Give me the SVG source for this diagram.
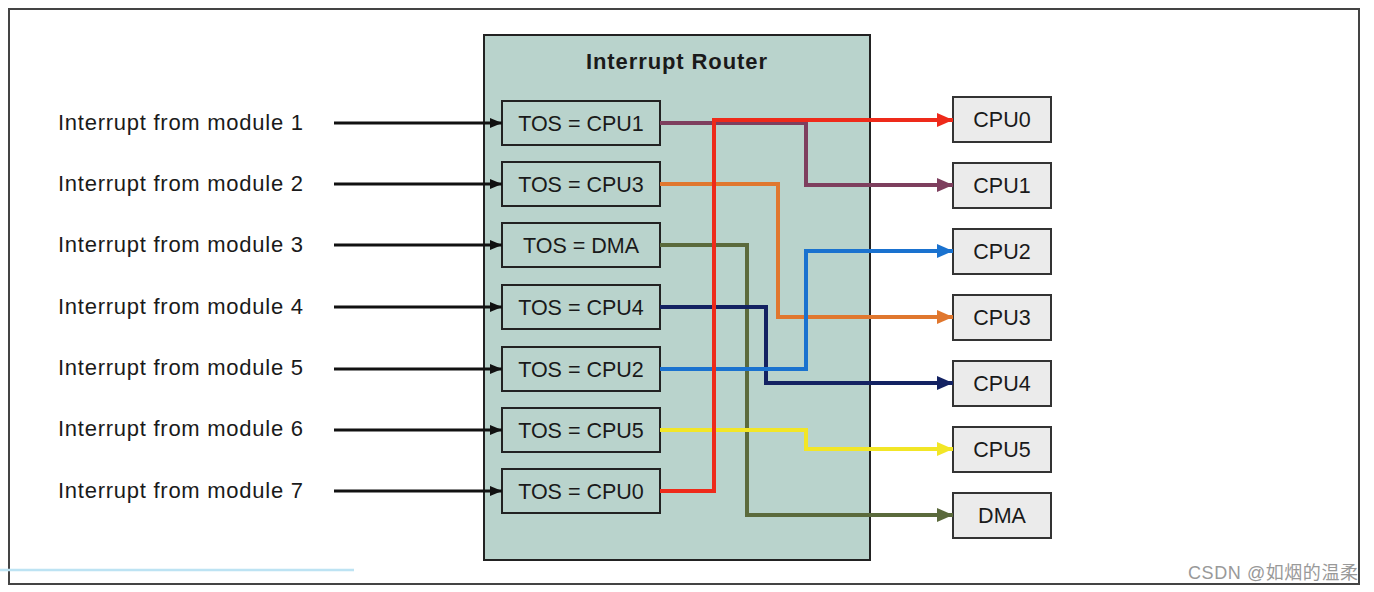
<svg xmlns="http://www.w3.org/2000/svg" width="1374" height="592" viewBox="0 0 1374 592">
<style>
.lbl{font-family:"Liberation Sans",Arial,sans-serif;font-size:22px;fill:#1a1a1a}
.tos{font-family:"Liberation Sans",Arial,sans-serif;font-size:21.5px;fill:#1a1a1a;text-anchor:middle}
.cpu{font-family:"Liberation Sans",Arial,sans-serif;font-size:21.5px;fill:#1a1a1a;text-anchor:middle}
.tbox{fill:#b9d3cc;stroke:#222;stroke-width:2}
.cbox{fill:#ebebeb;stroke:#333;stroke-width:2}
.in{stroke:#111;stroke-width:3;fill:none;marker-end:url(#mk)}
.w{fill:none;stroke-width:4;stroke-linejoin:miter}
</style>
<defs>
<marker id="mk" markerWidth="12" markerHeight="10" refX="12" refY="5" orient="auto" markerUnits="userSpaceOnUse"><path d="M0,0 L12,5 L0,10 Z" fill="#111"/></marker>
<marker id="mred" markerWidth="16" markerHeight="14" refX="16" refY="7" orient="auto" markerUnits="userSpaceOnUse"><path d="M0,0 L16,7 L0,14 Z" fill="#ee2a1a"/></marker>
<marker id="mpur" markerWidth="16" markerHeight="14" refX="16" refY="7" orient="auto" markerUnits="userSpaceOnUse"><path d="M0,0 L16,7 L0,14 Z" fill="#7e3f5e"/></marker>
<marker id="mblu" markerWidth="16" markerHeight="14" refX="16" refY="7" orient="auto" markerUnits="userSpaceOnUse"><path d="M0,0 L16,7 L0,14 Z" fill="#1a72cf"/></marker>
<marker id="mora" markerWidth="16" markerHeight="14" refX="16" refY="7" orient="auto" markerUnits="userSpaceOnUse"><path d="M0,0 L16,7 L0,14 Z" fill="#e0772e"/></marker>
<marker id="mnav" markerWidth="16" markerHeight="14" refX="16" refY="7" orient="auto" markerUnits="userSpaceOnUse"><path d="M0,0 L16,7 L0,14 Z" fill="#132262"/></marker>
<marker id="myel" markerWidth="16" markerHeight="14" refX="16" refY="7" orient="auto" markerUnits="userSpaceOnUse"><path d="M0,0 L16,7 L0,14 Z" fill="#f2e626"/></marker>
<marker id="moli" markerWidth="16" markerHeight="14" refX="16" refY="7" orient="auto" markerUnits="userSpaceOnUse"><path d="M0,0 L16,7 L0,14 Z" fill="#5b6a3c"/></marker>
</defs>
<rect x="0" y="0" width="1374" height="592" fill="#ffffff"/>
<rect id="frame" x="9" y="9" width="1350" height="575" fill="#ffffff" stroke="#444" stroke-width="2"/>
<line x1="0" y1="570" x2="354" y2="570" stroke="#bde3f3" stroke-width="2.5"/>

<g id="router">
<rect x="484" y="35" width="386" height="525" fill="#b9d3cc" stroke="#222" stroke-width="2"/>
<text x="586" y="69" font-family="'Liberation Sans',Arial,sans-serif" font-size="22" font-weight="bold" fill="#1a1a1a" textLength="181">Interrupt Router</text>
</g>

<g id="inputs">
<text class="lbl" x="58" y="130" textLength="245">Interrupt from module 1</text>
<text class="lbl" x="58" y="191" textLength="245">Interrupt from module 2</text>
<text class="lbl" x="58" y="252" textLength="245">Interrupt from module 3</text>
<text class="lbl" x="58" y="314" textLength="245">Interrupt from module 4</text>
<text class="lbl" x="58" y="375" textLength="245">Interrupt from module 5</text>
<text class="lbl" x="58" y="436" textLength="245">Interrupt from module 6</text>
<text class="lbl" x="58" y="498" textLength="245">Interrupt from module 7</text>
</g>

<g id="tos1"><rect class="tbox" x="502" y="101" width="158" height="44"/><text class="tos" x="581" y="131">TOS = CPU1</text></g>
<g id="tos3"><rect class="tbox" x="502" y="162" width="158" height="44"/><text class="tos" x="581" y="192">TOS = CPU3</text></g>
<g id="tosdma"><rect class="tbox" x="502" y="223" width="158" height="44"/><text class="tos" x="581" y="253">TOS = DMA</text></g>
<g id="tos4"><rect class="tbox" x="502" y="285" width="158" height="44"/><text class="tos" x="581" y="315">TOS = CPU4</text></g>
<g id="tos2"><rect class="tbox" x="502" y="347" width="158" height="44"/><text class="tos" x="581" y="377">TOS = CPU2</text></g>
<g id="tos5"><rect class="tbox" x="502" y="408" width="158" height="44"/><text class="tos" x="581" y="438">TOS = CPU5</text></g>
<g id="tos0"><rect class="tbox" x="502" y="469" width="158" height="44"/><text class="tos" x="581" y="499">TOS = CPU0</text></g>

<g id="cpu0"><rect class="cbox" x="953" y="97" width="98" height="45"/><text class="cpu" x="1002" y="127">CPU0</text></g>
<g id="cpu1"><rect class="cbox" x="953" y="163" width="98" height="45"/><text class="cpu" x="1002" y="193">CPU1</text></g>
<g id="cpu2"><rect class="cbox" x="953" y="229" width="98" height="45"/><text class="cpu" x="1002" y="259">CPU2</text></g>
<g id="cpu3"><rect class="cbox" x="953" y="295" width="98" height="45"/><text class="cpu" x="1002" y="325">CPU3</text></g>
<g id="cpu4"><rect class="cbox" x="953" y="361" width="98" height="45"/><text class="cpu" x="1002" y="391">CPU4</text></g>
<g id="cpu5"><rect class="cbox" x="953" y="427" width="98" height="45"/><text class="cpu" x="1002" y="457">CPU5</text></g>
<g id="dma"><rect class="cbox" x="953" y="493" width="98" height="45"/><text class="cpu" x="1002" y="523">DMA</text></g>

<g id="connectors">
<line class="in" x1="334" y1="123" x2="502" y2="123"/>
<line class="in" x1="334" y1="184" x2="502" y2="184"/>
<line class="in" x1="334" y1="245" x2="502" y2="245"/>
<line class="in" x1="334" y1="307" x2="502" y2="307"/>
<line class="in" x1="334" y1="369" x2="502" y2="369"/>
<line class="in" x1="334" y1="430" x2="502" y2="430"/>
<line class="in" x1="334" y1="491" x2="502" y2="491"/>

<polyline class="w" stroke="#5b6a3c" points="660,245 747,245 747,515 953,515" marker-end="url(#moli)"/>
<polyline class="w" stroke="#e0772e" points="660,184 778,184 778,317 953,317" marker-end="url(#mora)"/>
<polyline class="w" stroke="#132262" points="660,307 766,307 766,383 953,383" marker-end="url(#mnav)"/>
<polyline class="w" stroke="#1a72cf" points="660,369 806,369 806,251 953,251" marker-end="url(#mblu)"/>
<polyline class="w" stroke="#f2e626" points="660,430 806,430 806,449 953,449" marker-end="url(#myel)"/>
<polyline class="w" stroke="#7e3f5e" points="660,123 806,123 806,185 953,185" marker-end="url(#mpur)"/>
<polyline class="w" stroke="#ee2a1a" stroke-width="5" points="660,491 714,491 714,120 953,120" marker-end="url(#mred)"/>
</g>

<text x="1188" y="579" font-family="'Liberation Sans','Noto Sans CJK SC',sans-serif" font-size="18" fill="#999" textLength="170">CSDN @如烟的温柔</text>
</svg>
